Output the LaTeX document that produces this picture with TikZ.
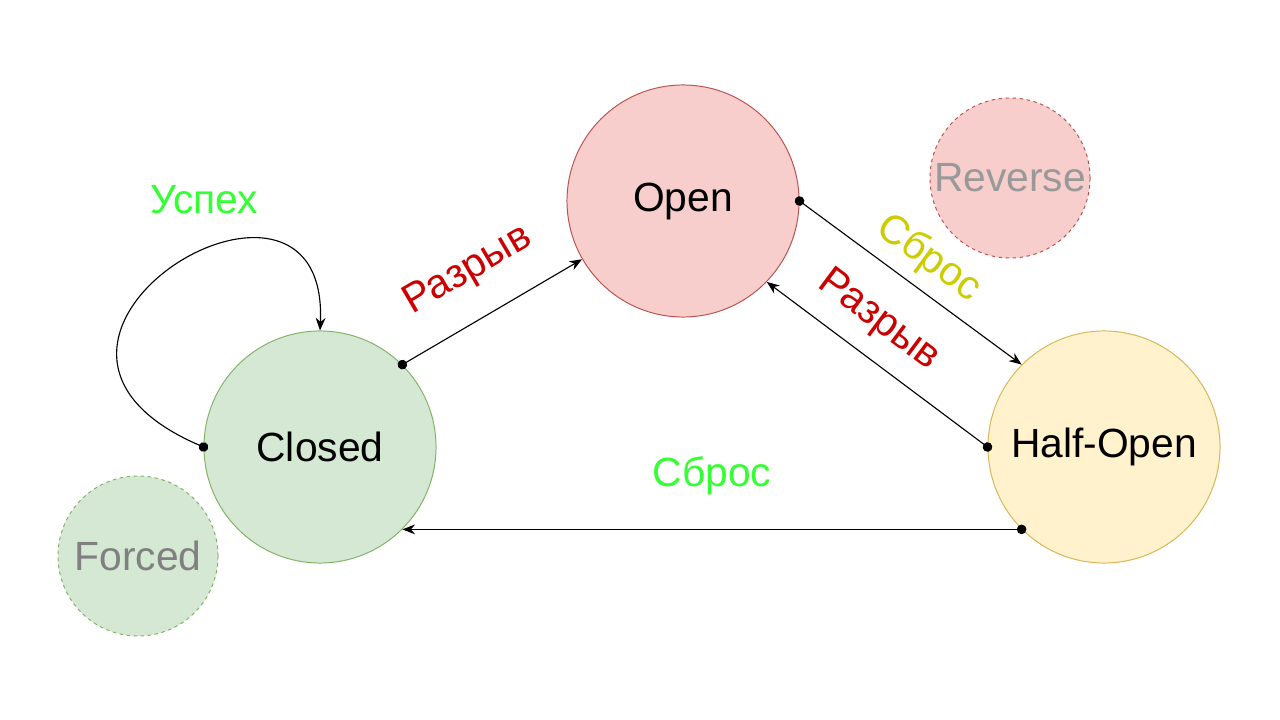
\documentclass[tikz,border=0pt]{standalone}
\usepackage{fontspec}
\setmainfont{Liberation Sans}
\usetikzlibrary{arrows.meta}

\definecolor{openfill}{HTML}{F8CECC}
\definecolor{opendraw}{HTML}{B85450}
\definecolor{closedfill}{HTML}{D5E8D4}
\definecolor{closeddraw}{HTML}{82B366}
\definecolor{halffill}{HTML}{FFF2CC}
\definecolor{halfdraw}{HTML}{D6B656}
\definecolor{breakred}{HTML}{CC0000}
\definecolor{resetyellow}{HTML}{CCCC00}
\definecolor{okgreen}{HTML}{33FF33}

\begin{document}
\begin{tikzpicture}[x=0.025cm,y=-0.025cm,
    bigfont/.style={font=\fontsize{29}{34}\selectfont},
    state/.style={circle,draw,line width=0.7pt,minimum size=5.8cm,inner sep=0pt,bigfont},
    ghost/.style={state,dash pattern=on 2.5pt off 2.5pt,minimum size=4cm},
    trans/.style={line width=0.8pt,shorten <=-3.4pt,
      {Circle[length=6.8pt]}-{Stealth[length=9pt,width=7pt]}},
    lbl/.style={bigfont,sloped}]
  \useasboundingbox (0,0) rectangle (1280,720);
  \node[state,fill=openfill,draw=opendraw] (open) at (683,201) {Open};
  \node[state,fill=closedfill,draw=closeddraw] (closed) at (320,447) {Closed};
  \node[state,fill=halffill,draw=halfdraw] (half) at (1104,447) {Half-Open};
  \node[ghost,fill=openfill,draw=opendraw,text=black!40] (reverse) at (1010,178) {Reverse};
  \node[ghost,fill=closedfill,draw=closeddraw,text=black!50] (forced) at (138,556) {Forced};

  \draw[trans] (closed.45) -- node[lbl,above=17pt,text=breakred]{Разрыв} (open.210);
  \draw[trans] (open.0) -- node[lbl,above=4pt,text=resetyellow]{Сброс} (half.135);
  \draw[trans] (half.180) -- node[lbl,pos=0.59,above=9pt,text=breakred]{Разрыв} (open.-44);
  \draw[trans] (half.225) -- node[lbl,above=21pt,text=okgreen]{Сброс} (closed.-45);
  \draw[trans] (closed.180) .. controls (-45,340) and (330,115) .. (closed.90)
    node[bigfont,text=okgreen] at (204,200) {Успех};
\end{tikzpicture}
\end{document}
